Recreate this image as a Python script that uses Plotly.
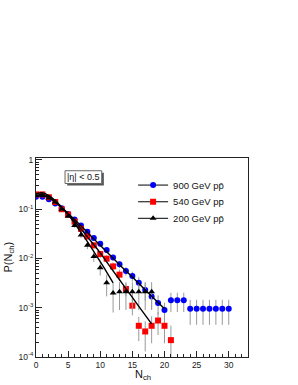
import plotly.graph_objects as go

# ---------------- data ----------------
n900 = list(range(0, 31))
p900 = [0.18, 0.18, 0.16, 0.13, 0.105, 0.08, 0.062, 0.047, 0.035, 0.026,
        0.020, 0.0148, 0.0105, 0.0076, 0.0056, 0.0044, 0.0032, 0.0023, 0.0017, 0.00125,
        0.0009, 0.00142, 0.00142, 0.00142, 0.00095, 0.00095, 0.00095, 0.00095, 0.00095, 0.00095,
        0.00095]
e900 = [0.006, 0.006, 0.006, 0.005, 0.005, 0.004, 0.0035, 0.003, 0.0027, 0.0023,
        0.002, 0.0017, 0.0014, 0.0012, 0.0011, 0.001, 0.001, 0.0009, 0.00077, 0.00053,
        0.00036, 0.0006, 0.0006, 0.0006, 0.0005, 0.0005, 0.0005, 0.0005, 0.0005, 0.0005,
        0.0005]

n540 = list(range(0, 22))
p540 = [0.2, 0.2, 0.175, 0.14, 0.1, 0.078, 0.056, 0.040, 0.028, 0.0185,
        0.0123, 0.0099, 0.0069, 0.0047, 0.0024, 0.0011, 0.00043, 0.00033, 0.00043, 0.00055,
        0.00043, 0.00022]
e540 = [0.006, 0.006, 0.006, 0.006, 0.006, 0.005, 0.004, 0.0035, 0.003, 0.0025,
        0.002, 0.0018, 0.0014, 0.0012, 0.0007, 0.0004, 0.00022, 0.0002, 0.00024, 0.00027,
        0.00024, 0.000216]

n200 = list(range(0, 19))
p200 = [0.19, 0.19, 0.17, 0.14, 0.1, 0.072, 0.047, 0.030, 0.0185, 0.011,
        0.0065, 0.0032, 0.002, 0.0021, 0.0021, 0.0021, 0.0021, 0.0021, 0.0021]
e200 = [0.008, 0.008, 0.008, 0.008, 0.008, 0.006, 0.005, 0.004, 0.003, 0.0025,
        0.002, 0.0015, 0.0012, 0.0012, 0.0012, 0.0012, 0.0012, 0.0012, 0.0012]

# fit curves
nfit900 = list(range(0, 21))
fit900 = [0.185, 0.19, 0.17, 0.138, 0.108, 0.082, 0.062, 0.046, 0.034, 0.025,
          0.0185, 0.0137, 0.0101, 0.0075, 0.0056, 0.0042, 0.0031, 0.0023, 0.00172, 0.00128,
          0.00095]
nfit540 = list(range(0, 19))
fit540 = [0.195, 0.2, 0.18, 0.145, 0.11, 0.08, 0.057, 0.040, 0.0275, 0.019,
          0.013, 0.0085, 0.0056, 0.0037, 0.00245, 0.00162, 0.00107, 0.00071, 0.00047]
nfit200 = list(range(0, 13))
fit200 = [0.205, 0.215, 0.19, 0.15, 0.11, 0.078, 0.052, 0.034, 0.022, 0.0138,
          0.0086, 0.0053, 0.0032]

labels = ["900 GeV pp\u0304", "540 GeV pp\u0304", "200 GeV pp\u0304"]
ytickvals = [1e-4, 1e-3, 1e-2, 1e-1, 1]
yticktext = ["10<sup>-4</sup>", "10<sup>-3</sup>", "10<sup>-2</sup>", "10<sup>-1</sup>", "1"]

# ---------------- figure ----------------
FONT = "Liberation Sans, Arial, sans-serif"
fig = go.Figure()

series = [
    (n900, p900, e900, "#0000ff", "circle", 6),
    (n540, p540, e540, "#ff0000", "square", 6),
    (n200, p200, e200, "#000000", "triangle-up", 6),
]
for (xs, ys, es, col, sym, sz) in series:
    fig.add_trace(go.Scatter(
        x=xs, y=ys, mode="markers", showlegend=False,
        marker=dict(color=col, symbol=sym, size=sz, line=dict(width=0)),
        error_y=dict(type="data", array=es, visible=True, color="#9a9a9a",
                     thickness=1, width=0),
    ))

for xs, ys in [(nfit900, fit900), (nfit540, fit540), (nfit200, fit200)]:
    fig.add_trace(go.Scatter(x=xs, y=ys, mode="lines", showlegend=False,
                             line=dict(color="black", width=1.4, shape="spline")))

# legend entries, one legend box per entry so the spacing can match
legend_ids = ["legend", "legend2", "legend3"]
legend_y = [0.864, 0.780, 0.697]
for (xs, ys, es, col, sym, sz), lab, lid in zip(series, labels, legend_ids):
    fig.add_trace(go.Scatter(
        x=[None], y=[None], mode="lines+markers", name=lab, legend=lid,
        marker=dict(color=col, symbol=sym, size=sz),
        line=dict(color="black", width=1),
    ))

leg_common = dict(x=0.458, xanchor="left", yanchor="middle",
                  bgcolor="rgba(0,0,0,0)", font=dict(size=9.5, color="#111"),
                  itemwidth=30)
legends = {lid: dict(y=yy, **leg_common) for lid, yy in zip(legend_ids, legend_y)}

fig.update_layout(
    width=298, height=385,
    margin=dict(l=36, r=50, t=158, b=28, autoexpand=False),
    paper_bgcolor="white", plot_bgcolor="white",
    font=dict(family=FONT, size=8.5, color="#222"),
    xaxis=dict(range=[0, 33], showgrid=False, zeroline=False, automargin=False,
               showline=True, linecolor="#222", linewidth=1, mirror=True,
               ticks="inside", ticklen=6, tickcolor="#222", dtick=5, tick0=0,
               minor=dict(ticks="inside", ticklen=3, dtick=1, tickcolor="#222"),
               tickfont=dict(size=8.5, color="#222")),
    yaxis=dict(type="log", range=[-4, 0.04], showgrid=False, zeroline=False, automargin=False,
               showline=True, linecolor="#222", linewidth=1, mirror=True,
               ticks="inside", ticklen=6, tickcolor="#222",
               tickvals=ytickvals, ticktext=yticktext,
               minor=dict(ticks="inside", ticklen=3, dtick="D1", tickcolor="#222"),
               tickfont=dict(size=8.5, color="#222")),
    **legends,
)

# axis titles
fig.add_annotation(xref="paper", yref="paper", x=-0.132, y=0.5, textangle=-90,
                   text="P(N<sub>ch</sub>)", showarrow=False,
                   font=dict(size=11, color="#111"), xanchor="center", yanchor="middle")
fig.add_annotation(xref="paper", yref="paper", x=0.505, y=-0.092,
                   text="N<sub>ch</sub>", showarrow=False,
                   font=dict(size=11, color="#111"), xanchor="center", yanchor="middle")

# |eta| box with shadow
fig.add_shape(type="rect", xref="paper", yref="paper",
              x0=0.147, x1=0.320, y0=0.862, y1=0.926,
              fillcolor="#555", line=dict(width=0), layer="above")
fig.add_shape(type="rect", xref="paper", yref="paper",
              x0=0.137, x1=0.310, y0=0.872, y1=0.936,
              fillcolor="white", line=dict(color="#666", width=1), layer="above")
fig.add_annotation(xref="paper", yref="paper", x=0.2235, y=0.904,
                   text="|\u03b7| < 0.5", showarrow=False,
                   font=dict(size=9, color="#111"), xanchor="center", yanchor="middle")

fig.write_html("out.html", config={"displayModeBar": False},
               post_script="document.body.style.margin='0px';document.body.style.overflow='hidden';")
